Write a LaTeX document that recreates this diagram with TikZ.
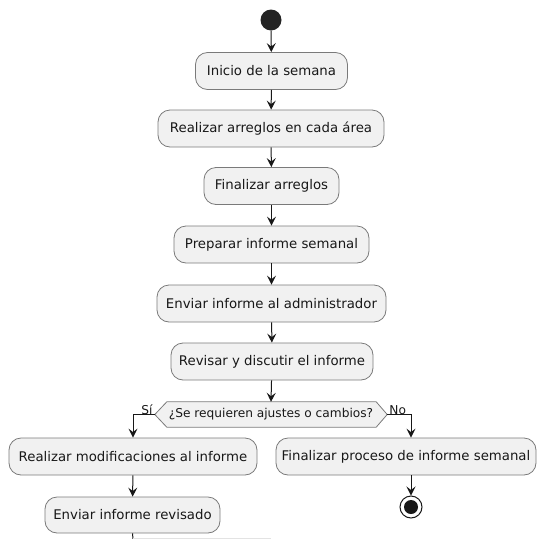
\documentclass[tikz,border=0pt]{standalone}
\usepackage{fontspec}
\setmainfont{DejaVu Sans}
\usetikzlibrary{arrows.meta}
\definecolor{boxfill}{HTML}{F1F1F1}
\definecolor{boxline}{HTML}{7A7A7A}
\definecolor{ink}{HTML}{181818}
\tikzset{
  activity/.style={draw=boxline, fill=boxfill, line width=0.8pt, rounded corners=12pt,
    minimum height=37pt, inner sep=0pt, align=center, text=ink,
    font=\fontsize{13.3}{15}\selectfont},
  decisionbox/.style={draw=boxline, fill=boxfill, line width=0.8pt},
  flow/.style={draw=ink, line width=1pt, -{Stealth[length=9pt,width=9pt,inset=3.5pt]}},
  plainflow/.style={draw=ink, line width=1pt},
  branchlabel/.style={inner sep=1pt, text=ink, font=\fontsize{12.2}{14}\selectfont},
}
\begin{document}
\begin{tikzpicture}[x=1pt, y=-1pt]
  \useasboundingbox (0,0) rectangle (537,539);

  % start and main sequence
  \node (start) [circle, fill=ink!95, minimum size=21pt, inner sep=0pt] at (271,20) {};
  \node (b1) [activity, minimum width=152pt] at (271.5,71) {Inicio de la semana};
  \node (b2) [activity, minimum width=226pt] at (271,128.5) {Realizar arreglos en cada área};
  \node (b3) [activity, minimum width=135pt] at (271.5,186) {Finalizar arreglos};
  \node (b4) [activity, minimum width=195pt] at (271.5,244.5) {Preparar informe semanal};
  \node (b5) [activity, minimum width=229pt] at (271.5,303.5) {Enviar informe al administrador};
  \node (b6) [activity, minimum width=202pt] at (272,361.5) {Revisar y discutir el informe};

  % decision
  \node (dec) [minimum width=232pt, minimum height=25pt, inner sep=0pt] at (271,414.5) {};
  \path[decisionbox] (dec.west) -- ([xshift=12pt]dec.north west) -- ([xshift=-11pt]dec.north east)
    -- (dec.east) -- ([xshift=-11pt]dec.south east) -- ([xshift=12pt]dec.south west) -- cycle;
  \node [text=ink, font=\fontsize{12.2}{14}\selectfont] at (dec.center) {¿Se requieren ajustes o cambios?};

  % branches
  \node (l1) [activity, minimum width=248pt] at (133,456.5) {Realizar modificaciones al informe};
  \node (r1) [activity, minimum width=260pt] at (406,456.5) {Finalizar proceso de informe semanal};
  \node (l2) [activity, minimum width=175pt, minimum height=36pt] at (132.5,515) {Enviar informe revisado};

  % end
  \node (stop) [circle, draw=ink, line width=1pt, fill=white, minimum size=22pt, inner sep=0pt] at (411,507) {};
  \fill[ink] (stop.center) circle (7pt);

  \coordinate (rdrop) at (411,456.5);
  \coordinate (cut) at (133,539);
  \coordinate (merge) at (271,538.5);

  % connectors
  \draw[flow] (start) -- (b1);
  \draw[flow] (b1) -- (b2);
  \draw[flow] (b2) -- (b3);
  \draw[flow] (b3) -- (b4);
  \draw[flow] (b4) -- (b5);
  \draw[flow] (b5) -- (b6);
  \draw[flow] (b6) -- (dec.north);
  \draw[flow] (dec.west) -| (l1.north);
  \draw[flow] (dec.east) -| (r1.north -| rdrop);
  \draw[flow] (l1) -- (l2);
  \draw[flow] (r1.south -| rdrop) -- (stop);
  \draw[plainflow] (l2.south) -- (cut);
  \draw[draw=ink!12, line width=0.6pt] (cut |- merge) -- (merge);

  % branch labels
  \node [branchlabel, anchor=south east] at ([xshift=-1pt,yshift=-1pt]dec.west) {Sí};
  \node [branchlabel, anchor=south west] at ([xshift=1pt,yshift=-1pt]dec.east) {No};
\end{tikzpicture}
\end{document}
